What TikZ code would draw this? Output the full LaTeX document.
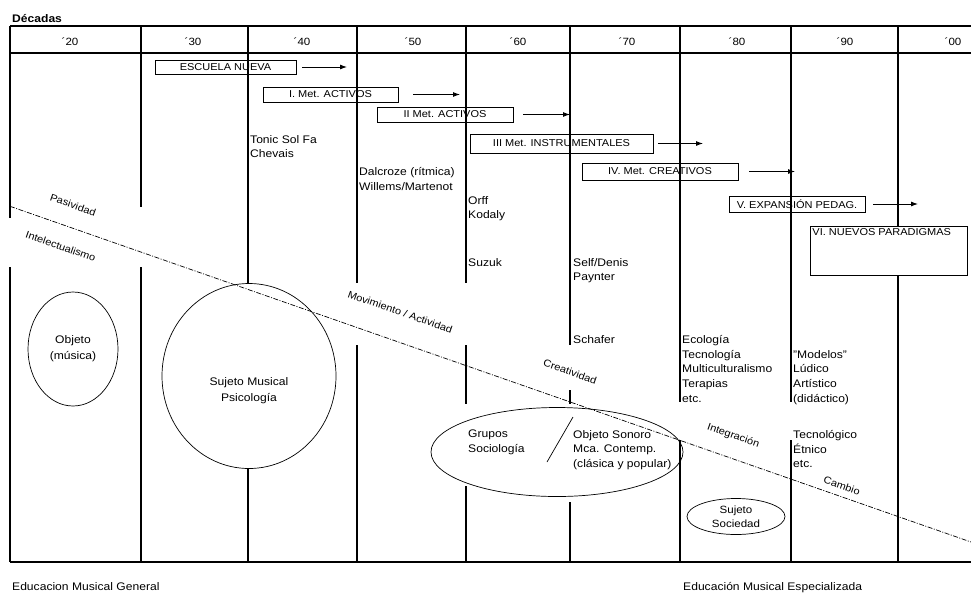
\documentclass[tikz,border=0pt]{standalone}
\usepackage{fontspec}
\setmainfont{Liberation Sans}[FakeStretch=1.1]
\usetikzlibrary{arrows.meta,shapes.geometric}

\begin{document}
\begin{tikzpicture}[x=1pt,y=-1pt]
\useasboundingbox (0,0) rectangle (971,592);

% cabecera
\node[anchor=base west, inner sep=0, font=\bfseries\fontsize{11}{13}\selectfont] (decadas) at (12,22.5) {Décadas};
\draw[line width=1.4pt] (10,26) -- (971,26);
\draw[line width=1.4pt] (10,53) -- (971,53);
\begin{scope}[every node/.style={anchor=base, inner sep=0, font=\fontsize{10.5}{12}\selectfont}]
    \foreach \x/\d in {70/20, 193/30, 302/40, 413/50, 518/60, 627/70, 737/80, 845/90, 953/00}
        \node (d\d) at (\x,45) {´\d};
\end{scope}

% columnas
\foreach \x/\a/\b in {10/26/218, 10/267/562, 141/26/207, 141/267/562,
                      248/26/283, 248/468/562, 357/26/283, 357/345/562,
                      466/26/283, 466/345/404, 466/486/562,
                      570/26/345, 570/390/404, 570/502/562,
                      680/26/402, 680/440/562, 791/26/402, 791/440/562, 898/26/562}
    \draw[line width=1.1pt] (\x,\a) -- (\x,\b);
\draw[line width=2pt] (10,562) -- (971,562);

\begin{scope}[every node/.style={rectangle, draw, line width=0.9pt, inner sep=0, font=\fontsize{10}{12}\selectfont}]
    \node[minimum width=141, minimum height=14] (escuela) at (225.5,67) {ESCUELA NUEVA};
    \node[minimum width=135, minimum height=15] (activos1) at (330.5,94.5) {I. Met. ACTIVOS};
    \node[minimum width=136, minimum height=15] (activos2) at (445,114.5) {II Met. ACTIVOS};
    \node[minimum width=183, minimum height=19] (instrum) at (561.5,143.5) {III Met. INSTRUMENTALES};
    \node[minimum width=156, minimum height=17] (creativos) at (660,171.5) {IV. Met. CREATIVOS};
    \node[minimum width=136, minimum height=16] (expansion) at (797,204) {V. EXPANSIÓN PEDAG.};
    \node[fill=white, anchor=north west, minimum width=157, minimum height=49,
          label={[draw=none, anchor=north west, inner sep=2pt]north west:VI. NUEVOS PARADIGMAS}] (paradigmas) at (810,226) {};
\end{scope}

\begin{scope}[>={Latex[length=7pt,width=5pt]}]
    \foreach \n/\s/\f in {escuela/6pt/347, activos1/15pt/460, activos2/10pt/570,
                          instrum/5pt/703, creativos/11pt/795, expansion/8pt/918} {
        \coordinate (fin-\n) at (\f,0);
        \draw[->, line width=0.9pt, shorten <=\s] (\n.east) -- (\n.east -| fin-\n);
    }
\end{scope}

\begin{scope}[every node/.style={anchor=north west, inner sep=0, align=left, font=\fontsize{11}{14.8}\selectfont}]
    \node (tonic) at (250,135) {Tonic Sol Fa\\Chevais};
    \node (dalcroze) at (359,167) {Dalcroze (rítmica)\\Willems/Martenot};
    \node (orff) at (468,196) {Orff\\Kodaly};
    \node (suzuki) at (468,258) {Suzuk};
    \node (self) at (573,258) {Self/Denis\\Paynter};
    \node (schafer) at (573,335) {Schafer};
    \node (ecologia) at (682,335) {Ecología\\Tecnología\\Multiculturalismo\\Terapias\\etc.};
    \node (modelos) at (793,350) {"Modelos"\\Lúdico\\Artístico\\(didáctico)};
    \node (tecno) at (793,430) {Tecnológico\\Étnico\\etc.};
    \node (grupostxt) at (468,430) {Grupos\\Sociología};
    \node (sonoro) at (573,430) {Objeto Sonoro\\Mca. Contemp.\\(clásica y popular)};
\end{scope}

\begin{scope}[every node/.style={ellipse, draw, line width=0.7pt, inner sep=0, align=center, font=\fontsize{11}{16}\selectfont}]
    \node[minimum width=90, minimum height=114] (objeto) at (73,349) {Objeto\\(música)};
    \node[minimum width=174, minimum height=185] (sujeto) at (249,376) {};
    \node[minimum width=252, minimum height=89] (grupos) at (557,452) {};
    \node[minimum width=98, minimum height=36, font=\fontsize{10.5}{14.5}\selectfont] (sociedad) at (736,516.5) {Sujeto\\Sociedad};
\end{scope}
\node[align=center, inner sep=0, font=\fontsize{11}{16}\selectfont] (sujetotxt) at ([yshift=-15pt]sujeto.center) {Sujeto Musical\\Psicología};
\draw[line width=0.7pt] (573,417) -- (547,462);

% linea de tendencia
\coordinate (ini) at (10,206.3);
\coordinate (fin) at (971,542);
\draw[line width=0.7pt, dash pattern=on 5pt off 1.5pt on 1pt off 1.5pt] (ini) -- (fin)
    node[pos=0.058, sloped, above=18pt, inner sep=0, font=\fontsize{10}{12}\selectfont] (pasividad) {Pasividad}
    node[pos=0.060, sloped, below=17pt, inner sep=0, font=\fontsize{10}{12}\selectfont] (intelect) {Intelectualismo}
    node[pos=0.396, sloped, above=25pt, inner sep=0, font=\fontsize{10}{12}\selectfont] (movimiento) {Movimiento / Actividad}
    node[pos=0.573, sloped, above=24.5pt, inner sep=0, font=\fontsize{10}{12}\selectfont] (creatividad) {Creatividad}
    node[pos=0.745, sloped, above=17pt, inner sep=0, font=\fontsize{10}{12}\selectfont] (integracion) {Integración}
    node[pos=0.862, sloped, above=6.5pt, inner sep=0, font=\fontsize{10}{12}\selectfont] (cambio) {Cambio};

\node[anchor=base west, inner sep=0, font=\fontsize{11}{13}\selectfont] (general) at (12,590.5) {Educacion Musical General};
\node[anchor=base west, inner sep=0, font=\fontsize{11}{13}\selectfont] (especial) at (683,590.5) {Educación Musical Especializada};
\end{tikzpicture}
\end{document}
